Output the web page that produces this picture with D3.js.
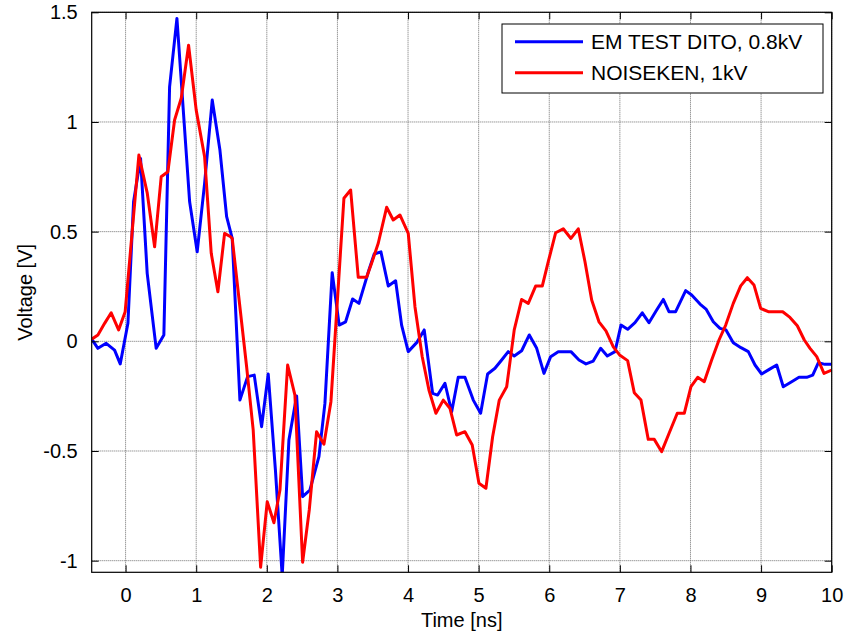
<!DOCTYPE html>
<html>
<head>
<meta charset="utf-8">
<script src="https://cdn.jsdelivr.net/npm/d3@7"></script>
<style>
  body { margin: 0; background: #fff; }
  svg { display: block; font-family: Arial, "Liberation Sans", sans-serif; }
</style>
</head>
<body>
<div id="chart"></div>
<script>
// Data (time in ns, voltage in V)
const emTime = [-0.48, -0.392, -0.275, -0.156, -0.076, 0.033, 0.113, 0.212, 0.306, 0.433, 0.542, 0.623, 0.727,
  0.907, 1.014, 1.119, 1.227, 1.336, 1.431, 1.510, 1.619, 1.728, 1.822, 1.926, 2.020, 2.122, 2.218, 2.313,
  2.422, 2.507, 2.610, 2.738, 2.823, 2.926, 3.025, 3.116, 3.215, 3.305, 3.446, 3.521, 3.616, 3.720, 3.824,
  3.909, 4.003, 4.122, 4.229, 4.348, 4.419, 4.523, 4.618, 4.711, 4.806, 4.924, 5.028, 5.127, 5.231, 5.326,
  5.419, 5.504, 5.609, 5.717, 5.822, 5.925, 6.020, 6.127, 6.307, 6.421, 6.520, 6.623, 6.728, 6.822, 6.931,
  7.016, 7.110, 7.214, 7.317, 7.412, 7.521, 7.615, 7.695, 7.790, 7.932, 8.017, 8.135, 8.220, 8.323, 8.418,
  8.503, 8.606, 8.715, 8.819, 8.914, 9.008, 9.116, 9.221, 9.314, 9.433, 9.537, 9.646, 9.731, 9.810, 9.905, 10.0];
const emVolt = [0.01, -0.032, -0.009, -0.040, -0.103, 0.082, 0.636, 0.834, 0.310, -0.032, 0.029, 1.160, 1.472,
  0.636, 0.408, 0.720, 1.100, 0.872, 0.568, 0.469, -0.268, -0.161, -0.154, -0.389, -0.149, -0.587, -1.07, -0.450,
  -0.249, -0.708, -0.678, -0.526, -0.283, 0.313, 0.074, 0.089, 0.193, 0.173, 0.325, 0.398, 0.408, 0.252, 0.276,
  0.074, -0.047, -0.006, 0.052, -0.237, -0.245, -0.191, -0.321, -0.164, -0.164, -0.268, -0.328, -0.149, -0.123, -0.085,
  -0.047, -0.067, -0.043, 0.029, -0.032, -0.146, -0.070, -0.047, -0.047, -0.085, -0.103, -0.090, -0.032, -0.067, -0.047,
  0.074, 0.055, 0.085, 0.130, 0.085, 0.143, 0.191, 0.135, 0.135, 0.231, 0.211, 0.170, 0.147, 0.089, 0.059,
  0.052, -0.006, -0.029, -0.047, -0.108, -0.149, -0.128, -0.108, -0.207, -0.184, -0.164, -0.164, -0.154, -0.098, -0.105, -0.105];

const nsTime = [-0.48, -0.392, -0.297, -0.204, -0.099, -0.006, 0.188, 0.306, 0.411, 0.504, 0.599, 0.694, 0.788,
  0.892, 1.000, 1.119, 1.213, 1.307, 1.402, 1.487, 1.510, 1.714, 1.807, 1.912, 2.006, 2.101, 2.186, 2.295,
  2.398, 2.507, 2.601, 2.705, 2.809, 2.908, 3.092, 3.187, 3.295, 3.413, 3.484, 3.578, 3.697, 3.790, 3.885,
  4.003, 4.098, 4.201, 4.296, 4.395, 4.499, 4.593, 4.688, 4.806, 4.909, 5.004, 5.103, 5.198, 5.292, 5.397,
  5.504, 5.609, 5.703, 5.807, 5.901, 5.986, 6.091, 6.198, 6.307, 6.411, 6.506, 6.601, 6.704, 6.803, 6.907,
  7.001, 7.110, 7.204, 7.299, 7.402, 7.487, 7.592, 7.700, 7.813, 7.912, 8.007, 8.102, 8.195, 8.300, 8.404,
  8.499, 8.606, 8.711, 8.805, 8.899, 8.994, 9.102, 9.306, 9.409, 9.513, 9.612, 9.693, 9.788, 9.891, 10.0];
const nsVolt = [0.01, 0.029, 0.082, 0.130, 0.052, 0.135, 0.849, 0.677, 0.431, 0.750, 0.773, 1.009, 1.108,
  1.350, 1.054, 0.841, 0.401, 0.226, 0.492, 0.477, 0.469, -0.116, -0.404, -1.030, -0.731, -0.827, -0.678, -0.108,
  -0.245, -1.007, -0.769, -0.412, -0.469, -0.275, 0.652, 0.690, 0.292, 0.292, 0.356, 0.447, 0.611, 0.553, 0.576,
  0.492, 0.158, -0.070, -0.222, -0.328, -0.268, -0.305, -0.427, -0.412, -0.473, -0.647, -0.670, -0.435, -0.268, -0.207,
  0.052, 0.191, 0.173, 0.252, 0.252, 0.363, 0.495, 0.513, 0.469, 0.513, 0.363, 0.188, 0.089, 0.048, -0.025,
  -0.064, -0.088, -0.234, -0.268, -0.447, -0.447, -0.503, -0.417, -0.328, -0.328, -0.207, -0.164, -0.184, -0.085, 0.006,
  0.074, 0.173, 0.253, 0.290, 0.257, 0.150, 0.135, 0.135, 0.109, 0.071, 0.006, -0.032, -0.070, -0.146, -0.131];

const seriesNames = ["EM TEST DITO, 0.8kV", "NOISEKEN, 1kV"];
const seriesColors = ["#0000ff", "#ff0000"];
const xTicks = [0, 1, 2, 3, 4, 5, 6, 7, 8, 9, 10];
const yTicks = [-1, -0.5, 0, 0.5, 1, 1.5];
const yTickLabels = ["-1", "-0.5", "0", "0.5", "1", "1.5"];

const W = 848, H = 634;
const plot = { left: 91.7, right: 831.7, top: 12.3, bottom: 572.3 };

const svg = d3.select("#chart")
  .append("svg")
  .attr("width", W)
  .attr("height", H);

const x = d3.scaleLinear().domain([-0.48, 10]).range([plot.left, plot.right]);
const y = d3.scaleLinear().domain([-1.053, 1.5]).range([plot.bottom, plot.top]);

svg.append("defs").append("clipPath")
  .attr("id", "clip")
  .append("rect")
  .attr("x", plot.left)
  .attr("y", plot.top)
  .attr("width", plot.right - plot.left)
  .attr("height", plot.bottom - plot.top);

// Grid
const grid = svg.append("g");
grid.selectAll(".vg").data(xTicks).enter().append("line")
  .attr("x1", d => x(d)).attr("x2", d => x(d))
  .attr("y1", plot.top).attr("y2", plot.bottom)
  .attr("stroke", "#6e6e6e").attr("stroke-width", 1)
  .attr("stroke-dasharray", "1,1");
grid.selectAll(".hg").data(yTicks).enter().append("line")
  .attr("x1", plot.left).attr("x2", plot.right)
  .attr("y1", d => y(d)).attr("y2", d => y(d))
  .attr("stroke", "#6e6e6e").attr("stroke-width", 1)
  .attr("stroke-dasharray", "1,1");

// Series lines
const series = [
  { t: emTime, v: emVolt },
  { t: nsTime, v: nsVolt }
];
const line = d3.line()
  .x(d => x(d[0]))
  .y(d => y(d[1]));

const lines = svg.append("g").attr("clip-path", "url(#clip)");
series.forEach((s, i) => {
  const pts = s.t.map((t, k) => [t, s.v[k]]);
  lines.append("path")
    .datum(pts)
    .attr("d", line)
    .attr("fill", "none")
    .attr("stroke", seriesColors[i])
    .attr("stroke-width", 3)
    .attr("stroke-linejoin", "round");
});

// Axes (MATLAB style box with inward ticks)
const tickLen = 7;
const axisG = svg.append("g");
axisG.append("g")
  .attr("transform", `translate(0,${plot.bottom})`)
  .call(d3.axisBottom(x).tickValues(xTicks).tickSizeInner(-tickLen).tickSizeOuter(0).tickPadding(16))
  .call(g => g.select(".domain").remove());
axisG.append("g")
  .attr("transform", `translate(0,${plot.top})`)
  .call(d3.axisTop(x).tickValues(xTicks).tickSizeInner(-tickLen).tickSizeOuter(0).tickFormat(""))
  .call(g => g.select(".domain").remove());
axisG.append("g")
  .attr("transform", `translate(${plot.left},0)`)
  .call(d3.axisLeft(y).tickValues(yTicks).tickSizeInner(-tickLen).tickSizeOuter(0).tickPadding(14)
    .tickFormat((d, i) => yTickLabels[i]))
  .call(g => g.select(".domain").remove());
axisG.append("g")
  .attr("transform", `translate(${plot.right},0)`)
  .call(d3.axisRight(y).tickValues(yTicks).tickSizeInner(-tickLen).tickSizeOuter(0).tickFormat(""))
  .call(g => g.select(".domain").remove());

axisG.selectAll(".tick text")
  .attr("font-family", "Arial, 'Liberation Sans', sans-serif")
  .attr("font-size", "20px")
  .attr("fill", "#000");
axisG.selectAll(".tick line").attr("stroke", "#000");

svg.append("rect")
  .attr("x", plot.left).attr("y", plot.top)
  .attr("width", plot.right - plot.left)
  .attr("height", plot.bottom - plot.top)
  .attr("fill", "none")
  .attr("stroke", "#000")
  .attr("stroke-width", 1.2);

// Axis labels
svg.append("text")
  .attr("x", (plot.left + plot.right) / 2)
  .attr("y", 627)
  .attr("text-anchor", "middle")
  .attr("font-size", "20px")
  .text("Time [ns]");

svg.append("text")
  .attr("transform", `translate(32,${(plot.top + plot.bottom) / 2}) rotate(-90)`)
  .attr("text-anchor", "middle")
  .attr("font-size", "20px")
  .text("Voltage [V]");

// Legend
const legend = svg.append("g");
legend.append("rect")
  .attr("x", 502).attr("y", 24)
  .attr("width", 321).attr("height", 69)
  .attr("fill", "#fff")
  .attr("stroke", "#000")
  .attr("stroke-width", 1);
seriesNames.forEach((name, i) => {
  const ly = 41.7 + i * 31;
  legend.append("line")
    .attr("x1", 515).attr("x2", 583)
    .attr("y1", ly).attr("y2", ly)
    .attr("stroke", seriesColors[i])
    .attr("stroke-width", 3);
  legend.append("text")
    .attr("x", 591).attr("y", ly + 7.5)
    .attr("font-size", "21px")
    .text(name);
});
</script>
</body>
</html>
